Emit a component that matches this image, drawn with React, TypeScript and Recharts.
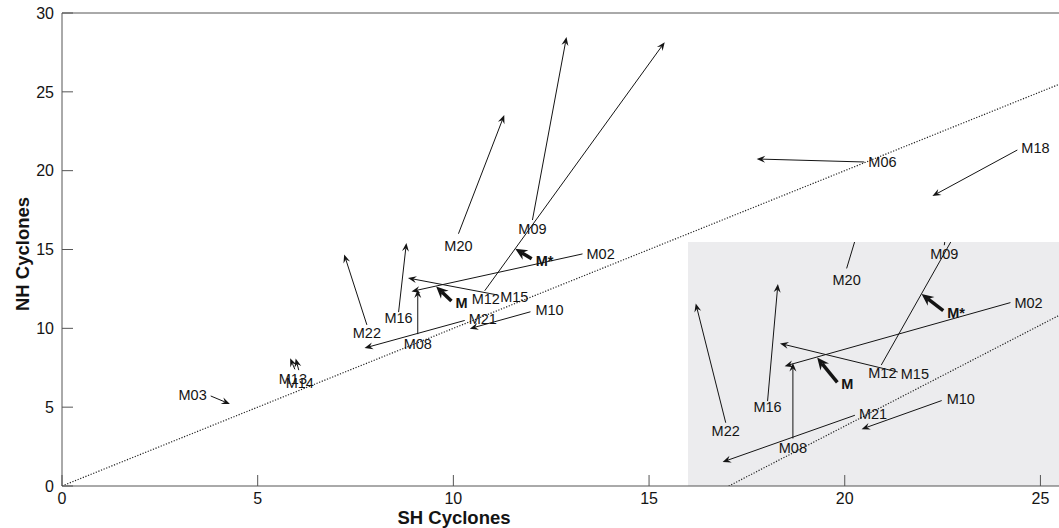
import { ComposedChart, XAxis, YAxis, Scatter, ReferenceLine } from 'recharts';

// model names, in the order of the value arrays below
const models = ['M02', 'M03', 'M06', 'M08', 'M09', 'M10', 'M12', 'M13', 'M14', 'M15', 'M16', 'M18', 'M20', 'M21', 'M22', 'M', 'M*'];
// arrow tail: present-day cyclone counts
const shFrom = [13.3, 3.8, 20.5, 9.09, 12.02, 11.97, 10.8, 5.95, 6.05, 11.12, 8.6, 24.41, 10.13, 10.29, 7.79, 9.95, 12.0];
const nhFrom = [14.72, 5.71, 20.55, 9.63, 16.87, 11.05, 12.38, 7.4, 7.35, 12.12, 11.03, 21.31, 16.0, 10.5, 10.22, 11.73, 14.42];
// arrow head: future cyclone counts
const shTo = [8.93, 4.29, 17.75, 9.09, 12.89, 10.42, 15.4, 5.83, 5.97, 8.84, 8.8, 22.24, 11.3, 7.73, 7.21, 9.56, 11.58];
const nhTo = [12.34, 5.2, 20.74, 12.46, 28.47, 9.98, 28.15, 8.1, 8.08, 13.19, 15.42, 18.39, 23.53, 8.75, 14.69, 12.66, 15.04];

const xTicks = [0, 5, 10, 15, 20, 25];
const yTicks = [0, 5, 10, 15, 20, 25, 30];
const heavy = ['M', 'M*'];

const FONT = '"Liberation Sans", Arial, Helvetica, sans-serif';
const INK = '#141414';
const AXIS = '#555';

// label placement next to the arrow tail (px offset, anchor)
const labelAt: Record<string, [number, number, 'start' | 'middle' | 'end']> = {
  M02: [4, 0, 'start'],
  M03: [-4, -1, 'end'],
  M06: [4, 0, 'start'],
  M08: [0, 10, 'middle'],
  M09: [0, 9, 'middle'],
  M10: [5, -2, 'start'],
  M12: [-13, 8, 'start'],
  M13: [-2, 10, 'middle'],
  M14: [1, 13, 'middle'],
  M15: [3, 2, 'start'],
  M16: [0, 6, 'middle'],
  M18: [4, -2, 'start'],
  M20: [0, 12, 'middle'],
  M21: [4, -1, 'start'],
  M22: [0, 8, 'middle'],
  M: [4, 2, 'start'],
  'M*': [4, 2, 'start'],
};

const rows = models.map((name, i) => ({
  name,
  x: shFrom[i],
  y: nhFrom[i],
  x2: shTo[i],
  y2: nhTo[i],
}));

function Arrow(p: any) {
  const { x1, y1, x2, y2, clipPath, bold } = p;
  if ([x1, y1, x2, y2].some((v) => typeof v !== 'number' || isNaN(v))) return null;
  const dx = x2 - x1;
  const dy = y2 - y1;
  const len = Math.hypot(dx, dy) || 1;
  const ux = dx / len;
  const uy = dy / len;
  const hl = bold ? 12 : 8.5;
  const hw = bold ? 5.5 : 3.5;
  const nb = bold ? 8 : 5.5;
  const bx = x2 - ux * hl;
  const by = y2 - uy * hl;
  const nx = x2 - ux * nb;
  const ny = y2 - uy * nb;
  const pts = `${x2},${y2} ${bx - uy * hw},${by + ux * hw} ${nx},${ny} ${bx + uy * hw},${by - ux * hw}`;
  return (
    <g clipPath={clipPath}>
      <line x1={x1} y1={y1} x2={nx} y2={ny} stroke={INK} strokeWidth={bold ? 3.5 : 1} />
      <polygon points={pts} fill={INK} />
    </g>
  );
}

function ModelLabel(props: any) {
  const { cx, cy, payload } = props;
  const name = payload?.name;
  if (!name || cx == null || cy == null) return null;
  const [dx, dy, anchor] = labelAt[name] ?? [4, 0, 'start'];
  return (
    <text
      x={cx + dx}
      y={cy + dy}
      textAnchor={anchor}
      dominantBaseline="central"
      fontSize={14.5}
      fontWeight={heavy.includes(name) ? 700 : 400}
      fontFamily={FONT}
      fill={INK}
    >
      {name}
    </text>
  );
}

function marks(data: typeof rows, overflow: 'visible' | 'hidden') {
  return [
    <ReferenceLine
      key="diag"
      segment={[{ x: 0, y: 0 }, { x: 30, y: 30 }]}
      ifOverflow="hidden"
      stroke="#222"
      strokeWidth={1.2}
      strokeDasharray="1.2 1.6"
    />,
    ...data.map((r) => (
      <ReferenceLine
        key={r.name}
        segment={[{ x: r.x, y: r.y }, { x: r.x2, y: r.y2 }]}
        ifOverflow={overflow}
        shape={(p: any) => <Arrow {...p} bold={heavy.includes(r.name)} />}
      />
    )),
  ];
}

const insetX: [number, number] = [7.06, 14.24];
const insetY: [number, number] = [7.85, 16.99];
const insetRows = rows.filter(
  (r) => r.x >= insetX[0] && r.x <= insetX[1] && r.y >= insetY[0] && r.y <= insetY[1]
);

const tickStyle = { fill: INK, fontSize: 16, fontFamily: FONT };

export default function App() {
  return (
    <div style={{ position: 'absolute', left: 0, top: 0, width: 1059, height: 528, overflow: 'hidden', background: '#fff' }}>
      {/* zoomed inset of the crowded middle */}
      <div style={{ position: 'absolute', left: 688, top: 242, width: 371, height: 244, background: '#ececee' }}>
        <ComposedChart width={371} height={244} margin={{ top: 0, right: 0, bottom: 0, left: 0 }}>
          <XAxis type="number" dataKey="x" domain={insetX} allowDataOverflow hide />
          <YAxis type="number" dataKey="y" domain={insetY} allowDataOverflow hide />
          {marks(rows, 'hidden')}
          <Scatter data={insetRows} shape={(p: any) => <ModelLabel {...p} />} isAnimationActive={false} />
        </ComposedChart>
      </div>

      <div style={{ position: 'absolute', left: 0, top: 0 }}>
        <ComposedChart width={1070} height={528} margin={{ top: 12, right: 9, bottom: 0, left: 0 }}>
          <XAxis
            type="number"
            dataKey="x"
            domain={[0, 25.5]}
            ticks={xTicks}
            allowDataOverflow
            height={42}
            tickSize={-11}
            tickMargin={18}
            stroke={AXIS}
            tick={tickStyle}
            label={{
              content: (lp: any) => (
                <text
                  x={lp.viewBox.x + 392}
                  y={lp.viewBox.y + 38}
                  textAnchor="middle"
                  fontSize={18.5}
                  fontWeight={700}
                  fontFamily={FONT}
                  fill={INK}
                >
                  SH Cyclones
                </text>
              ),
            }}
          />
          <YAxis
            type="number"
            dataKey="y"
            domain={[0, 30]}
            ticks={yTicks}
            allowDataOverflow
            width={62}
            tickSize={-11}
            tickMargin={19}
            stroke={AXIS}
            tick={tickStyle}
            label={{
              content: () => (
                <text
                  x={29}
                  y={254}
                  transform="rotate(-90 29 254)"
                  textAnchor="middle"
                  fontSize={18.5}
                  fontWeight={700}
                  fontFamily={FONT}
                  fill={INK}
                >
                  NH Cyclones
                </text>
              ),
            }}
          />
          <XAxis
            xAxisId="top"
            orientation="top"
            type="number"
            dataKey="x"
            domain={[0, 25.5]}
            ticks={xTicks}
            allowDataOverflow
            height={1}
            tickSize={-11}
            tick={false}
            stroke={AXIS}
          />
          <YAxis
            yAxisId="right"
            orientation="right"
            type="number"
            dataKey="y"
            domain={[0, 30]}
            ticks={yTicks}
            allowDataOverflow
            width={1}
            tickSize={-11}
            tick={false}
            stroke={AXIS}
          />
          {marks(rows, 'visible')}
          <Scatter data={rows} shape={(p: any) => <ModelLabel {...p} />} isAnimationActive={false} />
          {/* invisible series so the framing axes (top/right) get drawn */}
          <Scatter
            data={rows}
            xAxisId="top"
            yAxisId="right"
            shape={() => <g />}
            isAnimationActive={false}
          />
        </ComposedChart>
      </div>
    </div>
  );
}
